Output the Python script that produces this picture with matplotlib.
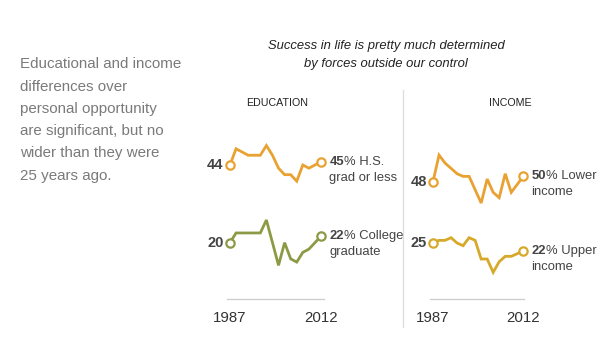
import matplotlib as mpl
mpl.use('Agg')

import matplotlib.pyplot as plt

plt.rcParams['font.family'] = ['Liberation Sans', 'DejaVu Sans']

# survey waves, evenly spaced, 1987 .. 2012
years = ['1987', '2012']
hs_or_less = [44, 49, 48, 47, 47, 47, 50, 47, 43, 41, 41, 39, 44, 43, 44, 45]
college_grad = [20, 23, 23, 23, 23, 23, 27, 20, 13, 20, 15, 14, 17, 18, 20, 22]
lower_income = [48, 58, 55, 53, 51, 50, 50, 45, 40, 49, 44, 42, 51, 44, 47, 50]
upper_income = [25, 26, 26, 27, 25, 24, 27, 26, 19, 19, 14, 18, 20, 20, 21, 22]

intro = ['Educational and income', 'differences over', 'personal opportunity',
         'are significant, but no', 'wider than they were', '25 years ago.']
title = ['Success in life is pretty much determined', 'by forces outside our control']

ORANGE = '#e9a232'
OLIVE = '#8c9a45'
GOLD = '#d6a92b'
DARK = '#444444'

W, H = 612, 340
fig = plt.figure(figsize=(W / 100, H / 100), dpi=100)
fig.patch.set_facecolor('white')


def px_axes(x0, y0, x1, y1):
    return fig.add_axes([x0 / W, 1 - y1 / H, (x1 - x0) / W, (y1 - y0) / H])


def px_text(x, y, s, **kw):
    fig.text(x / W, 1 - y / H, s, **kw)


# intro paragraph
for i, line in enumerate(intro):
    px_text(20, 64.5 + i * 22.2, line, fontsize=10.9, color='#7a7a7a', va='center')

for i, line in enumerate(title):
    px_text(386, 46 + i * 18, line, fontsize=9.4, style='italic', color='#222222',
            ha='center', va='center')

px_text(277, 103, 'EDUCATION', fontsize=7.7, color='#222222', ha='center', va='center')
px_text(510, 103, 'INCOME', fontsize=7.7, color='#222222', ha='center', va='center')

# divider between the panels
fig.add_artist(plt.Line2D([403 / W, 403 / W], [1 - 90 / H, 1 - 327 / H],
                          color='#dddddd', lw=0.9))


def panel(ax, series, xlim, ylim):
    x = list(range(len(series[0][0])))
    for vals, color, name in series:
        ax.plot(x, vals, color=color, lw=2, solid_joinstyle='miter', clip_on=False)
        for i in (0, len(vals) - 1):
            ax.plot(x[i], vals[i], 'o', ms=6, mfc='white', mec=color, mew=1.6,
                    clip_on=False, zorder=5)
        ax.annotate(str(vals[0]), xy=(x[0], vals[0]), xytext=(-4.5, 0),
                    textcoords='offset points', ha='right', va='center',
                    fontsize=10.5, fontweight='bold', color=DARK)
        num = ax.annotate(str(vals[-1]), xy=(x[-1], vals[-1]), xytext=(6, 0),
                          textcoords='offset points', ha='left', va='center',
                          fontsize=9.4, fontweight='bold', color=DARK)
        first, second = name
        ax.annotate('% ' + first, xy=(1, 0.5), xycoords=num, ha='left', va='center',
                    fontsize=9.4, color=DARK)
        ax.annotate(second, xy=(x[-1], vals[-1]), xytext=(6, -11.5),
                    textcoords='offset points', ha='left', va='center',
                    fontsize=9.4, color=DARK)
    ax.set_xlim(*xlim)
    ax.set_ylim(*ylim)
    for s in ('top', 'right', 'left'):
        ax.spines[s].set_visible(False)
    ax.spines['bottom'].set_color('#cccccc')
    ax.spines['bottom'].set_linewidth(0.9)
    ax.set_yticks([])
    ax.set_xticks([x[0], x[-1]])
    ax.set_xticklabels(years, fontsize=10.8, color='#333333')
    ax.tick_params(axis='x', length=0, pad=9)
    ax.patch.set_alpha(0)


ax1 = px_axes(227, 130, 324, 299)
panel(ax1, [(hs_or_less, ORANGE, ('H.S.', 'grad or less')),
            (college_grad, OLIVE, ('College', 'graduate'))],
      (-0.49, 15.49), (2.6, 54.8))

ax2 = px_axes(430, 130, 524, 299)
panel(ax2, [(lower_income, ORANGE, ('Lower', 'income')),
            (upper_income, GOLD, ('Upper', 'income'))],
      (-0.5, 15.12), (4.0, 67.4))

fig.savefig('out.png', dpi=100, facecolor='white')
